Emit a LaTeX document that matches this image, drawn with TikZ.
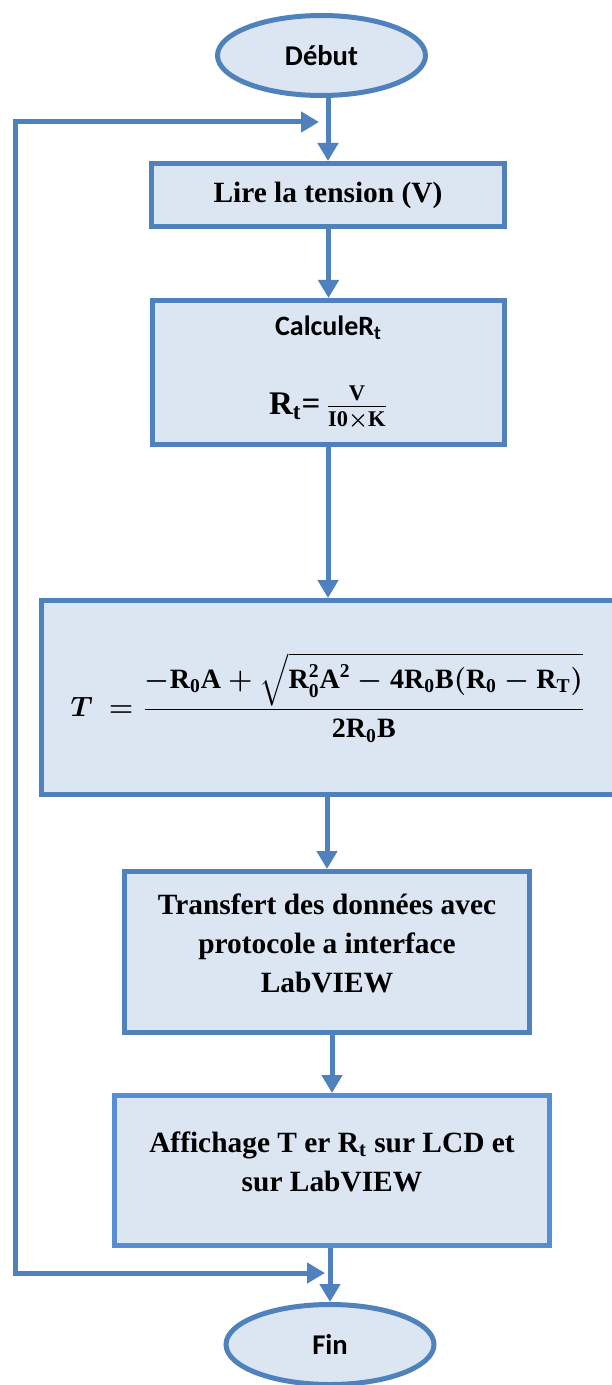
\RequirePackage{fix-cm}
\documentclass[tikz,border=0pt]{standalone}
\usepackage{amsmath}
\usepackage{fontspec}
\setmainfont{Liberation Serif}
\newfontfamily\calibri{Carlito}
\usepackage{tikz}
\usetikzlibrary{shapes.geometric}
\usetikzlibrary{arrows.meta}
\definecolor{flowblue}{HTML}{4F81BD}
\definecolor{flowblueb}{HTML}{558ED5}
\definecolor{flowfill}{HTML}{DCE6F2}
\newcommand{\mb}[1]{\text{\bfseries #1}}
\newcommand{\bR}[1]{\mb{R}_{\mb{#1}}}

\begin{document}
\begin{tikzpicture}[x=0.5pt, y=-0.5pt, >={Triangle[length=9pt,width=10pt]},
  every box/.style={draw=flowblue, fill=flowfill, line width=2.5pt, inner sep=0pt,
    align=center, font=\fontsize{14.7}{19.5}\selectfont\bfseries\boldmath},
  every terminal/.style={ellipse, draw=flowblue, fill=flowfill, line width=2.5pt,
    inner sep=0pt, minimum width=104pt, minimum height=40pt,
    font=\calibri\fontsize{14.3}{17}\selectfont\bfseries},
  flow/.style={->, draw=flowblue, line width=2.5pt, line join=miter}]

\useasboundingbox (0,0) rectangle (611,1385);

\node [every terminal] (debut) at (321.5,55.5) {Début};

\node [every box, minimum width=176.5pt, minimum height=31.5pt] (lire) at (328,195)
  {Lire la tension (V)};

\node [every box, minimum width=176pt, minimum height=72pt] (calcule) at (328.5,372.5)
  {{\calibri\fontsize{14}{17}\selectfont CalculeR\textsubscript{t}}\\[20pt]
   {\fontsize{16.5}{20}\selectfont $\bR{t}$=\,}{\fontsize{16}{19}\selectfont
   $\frac{\mb{V}}{\mb{I0}\times\mb{K}}$}};

\node [every box, minimum width=286.5pt, minimum height=97pt] (temp) at (328,697.5)
  {\fontsize{14}{17}\selectfont
   $T\ =\dfrac{-\bR{0}\mb{A}+\sqrt{\mb{R}_{\mb{0}}^{\mb{2}}\mb{A}^{\mb{2}}
     -\mb{4}\bR{0}\mb{B}(\bR{0}-\bR{T})}}{\mb{2}\bR{0}\mb{B}}$};

\node [every box, minimum width=202.5pt, minimum height=80.5pt,
       text height=40pt, text depth=0pt] (transfert) at (327,952)
  {Transfert des données avec\\protocole a interface\\LabVIEW};

\node [every box, draw=flowblueb, minimum width=217.5pt, minimum height=75pt,
       text height=20.5pt, text depth=0pt] (affichage) at (332,1170.5)
  {Affichage T er $\bR{t}$ sur LCD et\\sur LabVIEW};

\node [every terminal] (fin) at (330,1344.5) {Fin};

\foreach \a/\b in {debut/lire, lire/calcule, calcule/temp, temp/transfert,
                   transfert/affichage, affichage/fin}
  \draw [flow] (\a.south -| \b.north) -- (\b.north);

% retour vers le debut
\coordinate (loop-top) at (15,122);
\coordinate (loop-bottom) at (15,1273);
\coordinate (loop-in-top) at (319,122);
\coordinate (loop-in-bottom) at (325,1273);
\draw [flow, <->] (loop-in-top) -- (loop-top) -- (loop-bottom) -- (loop-in-bottom);

\end{tikzpicture}
\end{document}
